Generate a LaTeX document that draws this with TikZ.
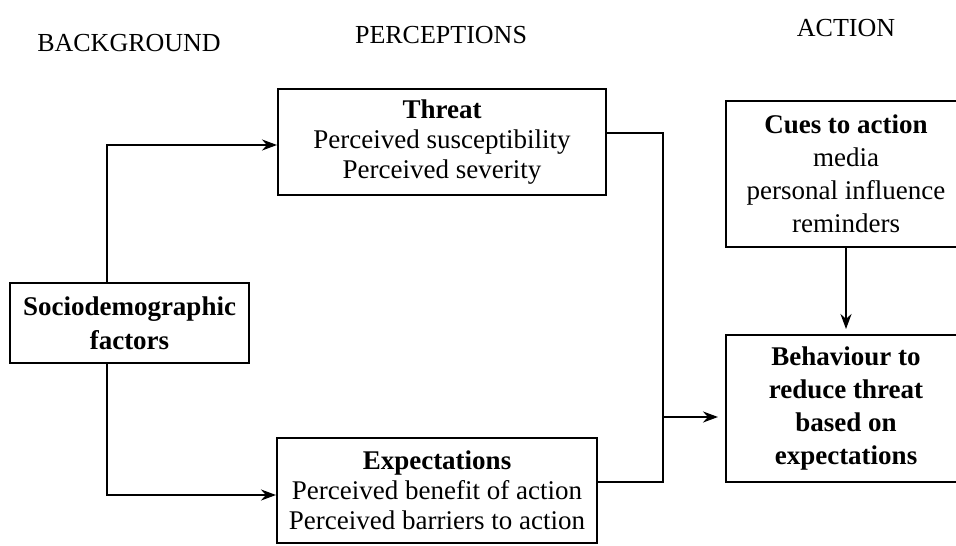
\documentclass[tikz,border=0pt]{standalone}
\usepackage{fontspec}
\setmainfont{Liberation Serif}
\usetikzlibrary{arrows.meta}
\begin{document}
\begin{tikzpicture}[x=.5pt, y=-.5pt, >={Stealth[length=7.5pt,width=5.5pt]}, line width=1pt,
    box/.style={draw, align=center, inner sep=0pt, font=\fontsize{13.5}{15}\selectfont},
    hdr/.style={font=\fontsize{13}{15}\selectfont}]
\useasboundingbox (0,0) rectangle (956,545);
\node[hdr] (bg) at (129,43) {BACKGROUND};
\node[hdr] (pc) at (441,35) {PERCEPTIONS};
\node[hdr] (ac) at (846,28) {ACTION};

\node[box, minimum width=119.5pt, minimum height=40pt, font=\fontsize{13.5}{17}\selectfont\bfseries] (socio) at (129.5,323) {Sociodemographic\\factors};
\node[box, minimum width=164pt, minimum height=53pt] (threat) at (442,142) {\textbf{Threat}\\Perceived susceptibility\\Perceived severity};
\node[box, minimum width=160pt, minimum height=52.5pt] (expect) at (437,490) {\textbf{Expectations}\\Perceived benefit of action\\Perceived barriers to action};
\node[box, minimum width=120pt, minimum height=73pt, font=\fontsize{13.5}{16.5}\selectfont] (cues) at (846,174) {\textbf{Cues to action}\\media\\personal influence\\reminders};
\node[box, minimum width=120pt, minimum height=73.5pt, font=\fontsize{13.5}{16.5}\selectfont\bfseries] (beh) at (846,408.5) {Behaviour to\\reduce threat\\based on\\expectations};

\coordinate (jl) at (107,0);
\coordinate (jr) at (663,417);
\draw[->] (socio.north -| jl) |- ([yshift=-1.5pt]threat.west);
\draw[->] (socio.south -| jl) |- ([yshift=-2.5pt]expect.west);
\draw ([yshift=4.5pt]threat.east) -| (jr) |- ([yshift=4pt]expect.east);
\draw[->, shorten >=3.5pt] (jr) -- (jr -| beh.west);
\draw[->, shorten >=2.5pt] (cues) -- (beh);
\end{tikzpicture}
\end{document}
